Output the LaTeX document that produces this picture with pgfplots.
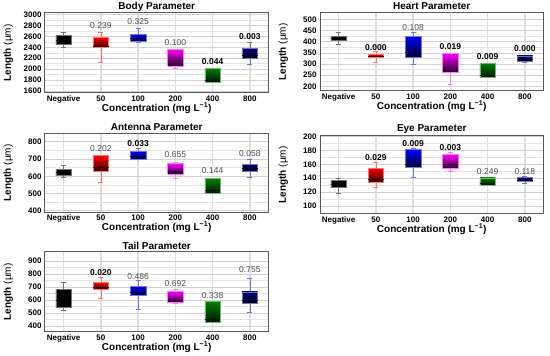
\documentclass[border=0pt]{standalone}
\usepackage{fontspec}
\setmainfont{Liberation Sans}
\usepackage{pgfplots}
\pgfplotsset{compat=1.18}
\definecolor{cR}{RGB}{255,0,0}
\definecolor{cB}{RGB}{0,0,255}
\definecolor{cM}{RGB}{255,0,255}
\definecolor{cG}{RGB}{0,128,0}
\definecolor{cN}{RGB}{0,0,128}
\definecolor{cK}{RGB}{0,0,0}
\tikzset{
  pv/.style={font=\fontsize{8.5}{9}\selectfont, text=black!70, anchor=center},
  pb/.style={font=\bfseries\fontsize{8.5}{9}\selectfont, text=black, anchor=center},
}
\pgfplotsset{
  panel/.style={
    scale only axis, width=223.5pt,
    xmin=-0.5, xmax=5.5,
    xtick={0,1,2,3,4,5}, xticklabels={Negative,50,100,200,400,800},
    major tick length=0pt, minor tick length=0pt,
    xmajorgrids, ymajorgrids, yminorgrids, minor y tick num=1,
    major x grid style={line width=1.3pt, black!13},
    major y grid style={line width=0.5pt, black!18},
    minor y grid style={line width=0.4pt, black!10},
    axis line style={draw=black!65, line width=1pt},
    tick label style={font=\bfseries\fontsize{8}{9}\selectfont},
    /pgf/number format/assume math mode=true,
    /pgf/number format/set thousands separator={},
    xlabel={\bfseries Concentration (mg L\textsuperscript{−1})},
    ylabel={\bfseries Length \mdseries(µm)},
    label style={font=\fontsize{9.5}{10}\selectfont},
    every axis title/.style={at={(0.5,1)}, anchor=center, yshift=6.5pt, font=\bfseries\fontsize{10}{11}\selectfont},
    every axis x label/.style={at={(0.5,0)}, anchor=center, yshift=-15pt},
    every axis y label/.style={at={(-0.164,0.5)}, rotate=90, anchor=center},
    xticklabel style={yshift=1pt},
  },
  wh/.style={draw=#1!55!white, line width=0.6pt},
  bxs/.style={draw=#1!55!white, line width=0.6pt, top color=#1, bottom color=#1!15!black},
  md/.style={draw=#1!20!black, line width=0.6pt},
}
% position, lower whisker, lower quartile, median, upper quartile, upper whisker, colour
\newcommand{\bp}[7]{%
  \pgfmathsetmacro\bxL{#1-0.21}\pgfmathsetmacro\bxR{#1+0.21}%
  \pgfmathsetmacro\cpL{#1-0.07}\pgfmathsetmacro\cpR{#1+0.07}%
  \addplot[wh=#7] coordinates {(#1,#2) (#1,#3)};
  \addplot[wh=#7] coordinates {(#1,#5) (#1,#6)};
  \addplot[wh=#7] coordinates {(\cpL,#2) (\cpR,#2)};
  \addplot[wh=#7] coordinates {(\cpL,#6) (\cpR,#6)};
  \addplot[bxs=#7] coordinates {(\bxL,#3) (\bxR,#3) (\bxR,#5) (\bxL,#5) (\bxL,#3)};
  \addplot[md=#7] coordinates {(\bxL,#4) (\bxR,#4)};
}
\begin{document}
\begin{tikzpicture}
% Body
\begin{axis}[panel, at={(45pt,263pt)}, anchor=south west, height=80pt,
  ymin=1560, ymax=3030, ytick={1600,1800,2000,2200,2400,2600,2800,3000}, title={Body Parameter}]
\bp{0}{2397}{2452}{2530}{2611}{2671}{cK}
\bp{1}{2130}{2391}{2420}{2580}{2670}{cR}
\bp{2}{2500}{2519}{2560}{2641}{2744}{cB}
\bp{3}{2014}{2057}{2110}{2367}{2367}{cM}
\bp{4}{1764}{1764}{1800}{2014}{2014}{cG}
\bp{5}{2087}{2190}{2250}{2379}{2489}{cN}
\node[pv] at (axis cs:1,2793) {0.239};
\node[pv] at (axis cs:2,2866) {0.325};
\node[pv] at (axis cs:3,2483) {0.100};
\node[pb] at (axis cs:4,2136) {0.044};
\node[pb] at (axis cs:5,2592) {0.003};
\end{axis}
% Heart
\begin{axis}[panel, at={(320pt,265pt)}, anchor=south west, height=78pt,
  ymin=179, ymax=528, ytick={200,250,300,350,400,450,500}, title={Heart Parameter}]
\bp{0}{390}{404}{415}{425}{442}{cK}
\bp{1}{307}{330}{336}{343}{355}{cR}
\bp{2}{300}{330}{350}{424}{440}{cB}
\bp{3}{209}{261}{272}{348}{348}{cM}
\bp{4}{239}{239}{250}{304}{304}{cG}
\bp{5}{307}{313}{322}{336}{339}{cN}
\node[pb] at (axis cs:1,373) {0.000};
\node[pv] at (axis cs:2,464) {0.108};
\node[pb] at (axis cs:3,378) {0.019};
\node[pb] at (axis cs:4,333) {0.009};
\node[pb] at (axis cs:5,369) {0.000};
\end{axis}
% Antenna
\begin{axis}[panel, at={(45pt,143.7pt)}, anchor=south west, height=79pt,
  ymin=391, ymax=849, ytick={400,500,600,700,800}, title={Antenna Parameter}]
\bp{0}{595}{607}{625}{641}{661}{cK}
\bp{1}{564}{626}{650}{719}{719}{cR}
\bp{2}{700}{700}{715}{742}{761}{cB}
\bp{3}{587}{614}{630}{674}{682}{cM}
\bp{4}{500}{500}{520}{587}{587}{cG}
\bp{5}{595}{630}{645}{669}{698}{cN}
\node[pv] at (axis cs:1,761) {0.202};
\node[pb] at (axis cs:2,792) {0.033};
\node[pv] at (axis cs:3,723) {0.655};
\node[pv] at (axis cs:4,630) {0.144};
\node[pv] at (axis cs:5,730) {0.058};
\end{axis}
% Eye
\begin{axis}[panel, at={(320pt,142pt)}, anchor=south west, height=78.3pt,
  ymin=88.6, ymax=201, ytick={100,120,140,160,180,200}, title={Eye Parameter}]
\bp{0}{118}{127}{131}{136.5}{139.3}{cK}
\bp{1}{127.5}{133.6}{139}{154.5}{162.6}{cR}
\bp{2}{141.7}{155}{160}{181.5}{183}{cB}
\bp{3}{150}{153.5}{160}{174}{177}{cM}
\bp{4}{130}{130}{133}{140.3}{140.3}{cG}
\bp{5}{132}{135.5}{137.5}{141.2}{142.7}{cN}
\node[pb] at (axis cs:1,169.7) {0.029};
\node[pb] at (axis cs:2,189.6) {0.009};
\node[pb] at (axis cs:3,184.4) {0.003};
\node[pv] at (axis cs:4,148.8) {0.249};
\node[pv] at (axis cs:5,150.2) {0.118};
\end{axis}
% Tail
\begin{axis}[panel, at={(45pt,24pt)}, anchor=south west, height=80pt,
  ymin=354, ymax=969, ytick={400,500,600,700,800,900}, title={Tail Parameter}]
\bp{0}{518}{546}{600}{682}{738}{cK}
\bp{1}{610}{679}{695}{733}{774}{cR}
\bp{2}{528}{633}{660}{705}{751}{cB}
\bp{3}{574}{579}{600}{667}{682}{cM}
\bp{4}{426}{426}{450}{590}{590}{cG}
\bp{5}{508}{572}{600}{662}{769}{cN}
\node[pb] at (axis cs:1,813) {0.020};
\node[pv] at (axis cs:2,779) {0.486};
\node[pv] at (axis cs:3,723) {0.692};
\node[pv] at (axis cs:4,633) {0.338};
\node[pv] at (axis cs:5,831) {0.755};
\end{axis}
\pgfresetboundingbox
\path[use as bounding box] (0pt,0pt) rectangle (550pt,356pt);
\end{tikzpicture}
\end{document}
